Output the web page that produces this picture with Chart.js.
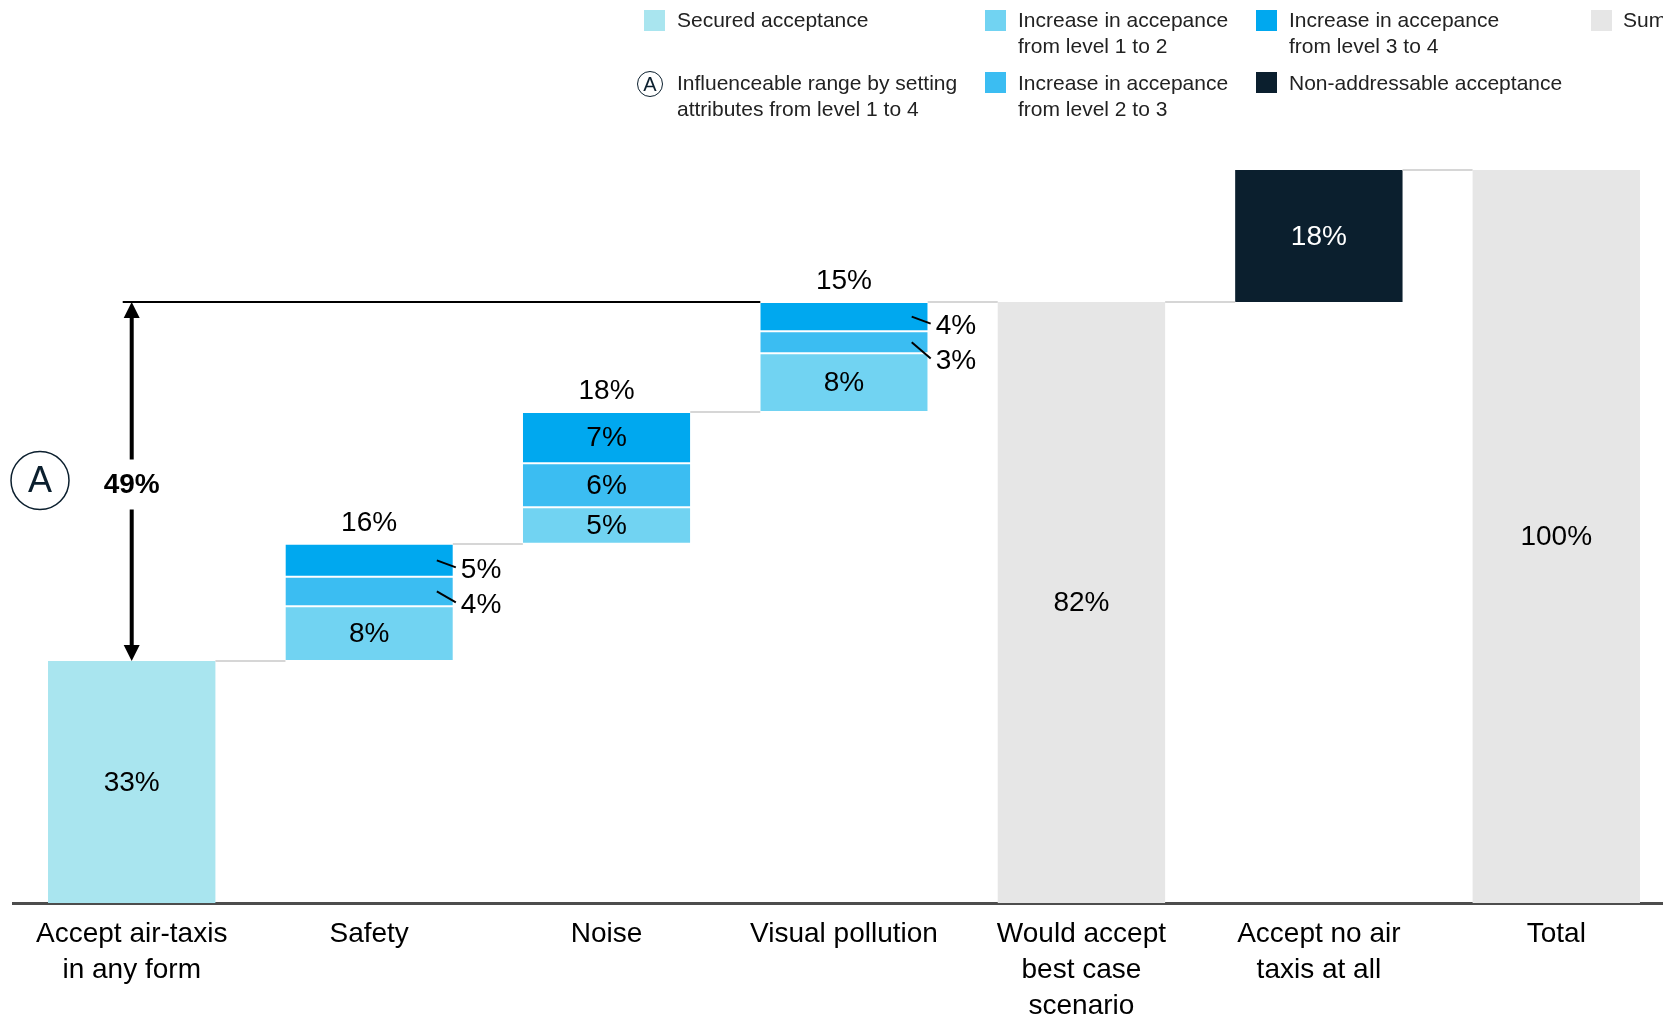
<!DOCTYPE html>
<html>
<head>
<meta charset="utf-8">
<script src="https://cdn.jsdelivr.net/npm/chart.js@4.4.1/dist/chart.umd.min.js"></script>
<style>
  html, body { margin: 0; padding: 0; background: #fff; overflow: hidden; }
  body { width: 1663px; height: 1017px; position: relative; font-family: 'Liberation Sans', Arial, sans-serif; }
  #wrap { position: absolute; left: 0; top: 0; width: 1700px; height: 1017px; }
  .lg { position: absolute; font-size: 21px; line-height: 26px; color: #222; white-space: nowrap; }
  .sw { position: absolute; width: 21px; height: 21px; }
  .circ { position: absolute; width: 24px; height: 24px; border: 1.5px solid #0B1F2E; border-radius: 50%;
          font-size: 20px; line-height: 24px; text-align: center; color: #0B1F2E; box-sizing: content-box; }
</style>
</head>
<body>
<div id="wrap"><canvas id="chart" width="1700" height="1017"></canvas></div>

<!-- legend -->
<div class="sw" style="left:644px;top:10px;background:#A9E5EF"></div>
<div class="lg" style="left:677px;top:7px">Secured acceptance</div>
<div class="sw" style="left:985px;top:10px;background:#71D3F2"></div>
<div class="lg" style="left:1018px;top:7px">Increase in accepance<br>from level 1 to 2</div>
<div class="sw" style="left:1256px;top:10px;background:#00A8EF"></div>
<div class="lg" style="left:1289px;top:7px">Increase in accepance<br>from level 3 to 4</div>
<div class="sw" style="left:1591px;top:10px;background:#E6E6E6"></div>
<div class="lg" style="left:1623px;top:7px">Sum</div>
<div class="circ" style="left:637px;top:71px">A</div>
<div class="lg" style="left:677px;top:70px">Influenceable range by setting<br>attributes from level 1 to 4</div>
<div class="sw" style="left:985px;top:72px;background:#3BBDF2"></div>
<div class="lg" style="left:1018px;top:70px">Increase in accepance<br>from level 2 to 3</div>
<div class="sw" style="left:1256px;top:72px;background:#0B1F2E"></div>
<div class="lg" style="left:1289px;top:70px">Non-addressable acceptance</div>

<script>
// categories and values (percent of respondents)
const categories = [['Accept air-taxis', 'in any form'], 'Safety', 'Noise', 'Visual pollution',
                    ['Would accept', 'best case', 'scenario'], ['Accept no air', 'taxis at all'], 'Total'];
const securedAcceptance = [33, null, null, null, null, null, null];
const level1to2 = [null, 7.5, 5, 8, null, null, null];
const level2to3 = [null, 4, 6, 3, null, null, null];
const level3to4 = [null, 4.5, 7, 4, null, null, null];
const nonAddressable = [null, null, null, null, null, 18, null];
const sumValues = [null, null, null, null, 82, null, 100];

const colors = {
    secured: '#A9E5EF',
    l12: '#71D3F2',
    l23: '#3BBDF2',
    l34: '#00A8EF',
    dark: '#0B1F2E',
    sum: '#E6E6E6'
};
const FONT = "'Liberation Sans', Arial, sans-serif";

// build floating [start, end] ranges for the waterfall
var running = securedAcceptance[0];
var r12 = [], r23 = [], r34 = [], rDark = [], rSum = [], rSecured = [];
categories.forEach(function(c, i) {
    rSecured.push(securedAcceptance[i] != null ? [0, securedAcceptance[i]] : null);
    if (level1to2[i] != null) {
        var a = running, b = a + level1to2[i], c2 = b + level2to3[i], d = c2 + level3to4[i];
        r12.push([a, b]); r23.push([b, c2]); r34.push([c2, d]);
        running = d;
    } else {
        r12.push(null); r23.push(null); r34.push(null);
    }
    rDark.push(nonAddressable[i] != null ? [running, running + nonAddressable[i]] : null);
    rSum.push(sumValues[i] != null ? [0, sumValues[i]] : null);
});
var bestCase = running;
var influenceable = bestCase - securedAcceptance[0];

function pct(v) { return Math.round(v) + '%'; }

var segBorder = { top: 1, bottom: 1, left: 0, right: 0 };

// labels, connectors, the influenceable-range arrow
var waterfallDecor = {
    id: 'waterfallDecor',
    afterDatasetsDraw: function(chart) {
        var ctx = chart.ctx;
        var ys = chart.scales.y;
        var metas = [0, 1, 2, 3, 4, 5].map(function(i) { return chart.getDatasetMeta(i); });
        function bar(ds, i) { return metas[ds].data[i]; }
        function left(el) { return el.x - el.width / 2; }
        function right(el) { return el.x + el.width / 2; }

        ctx.save();

        // thin grey connectors between neighbouring bars
        ctx.strokeStyle = '#D6D6D6';
        ctx.lineWidth = 2;
        function conn(x1, x2, v) {
            var y = Math.round(ys.getPixelForValue(v));
            ctx.beginPath(); ctx.moveTo(x1, y); ctx.lineTo(x2, y); ctx.stroke();
        }
        conn(right(bar(0, 0)), left(bar(1, 1)), securedAcceptance[0]);
        conn(right(bar(3, 1)), left(bar(1, 2)), r34[1][1]);
        conn(right(bar(3, 2)), left(bar(1, 3)), r34[2][1]);
        conn(right(bar(3, 3)), left(bar(5, 4)), bestCase);
        conn(right(bar(5, 4)), left(bar(4, 5)), bestCase);
        conn(right(bar(4, 5)), left(bar(5, 6)), sumValues[6]);

        // black reference line at best-case level
        var first = bar(0, 0);
        var yTop = ys.getPixelForValue(bestCase);
        var yBot = ys.getPixelForValue(securedAcceptance[0]);
        ctx.strokeStyle = '#000';
        ctx.lineWidth = 2;
        ctx.beginPath(); ctx.moveTo(first.x - 9, yTop); ctx.lineTo(left(bar(1, 3)), yTop); ctx.stroke();

        // double arrow with the range label
        var ax = first.x, mid = (yTop + yBot) / 2 + 2, head = 16, hw = 8;
        ctx.lineWidth = 4;
        ctx.beginPath();
        ctx.moveTo(ax, yTop + head); ctx.lineTo(ax, mid - 24);
        ctx.moveTo(ax, mid + 26); ctx.lineTo(ax, yBot - head);
        ctx.stroke();
        ctx.fillStyle = '#000';
        ctx.beginPath(); ctx.moveTo(ax, yTop); ctx.lineTo(ax - hw, yTop + head); ctx.lineTo(ax + hw, yTop + head); ctx.closePath(); ctx.fill();
        ctx.beginPath(); ctx.moveTo(ax, yBot); ctx.lineTo(ax - hw, yBot - head); ctx.lineTo(ax + hw, yBot - head); ctx.closePath(); ctx.fill();
        ctx.font = 'bold 28px ' + FONT;
        ctx.textAlign = 'center';
        ctx.textBaseline = 'middle';
        ctx.fillText(pct(influenceable), ax, mid + 2);

        // circled A marker
        ctx.strokeStyle = colors.dark;
        ctx.lineWidth = 1.5;
        ctx.beginPath(); ctx.arc(40, mid - 3, 29, 0, Math.PI * 2); ctx.stroke();
        ctx.fillStyle = colors.dark;
        ctx.font = '36px ' + FONT;
        ctx.fillText('A', 40, mid - 1);

        // value labels
        ctx.font = '28px ' + FONT;
        function inside(el, text, color) {
            ctx.fillStyle = color || '#000';
            ctx.fillText(text, el.x, (el.y + el.base) / 2 + 1);
        }
        inside(bar(0, 0), pct(securedAcceptance[0]));
        inside(bar(4, 5), pct(nonAddressable[5]), '#fff');
        inside(bar(5, 4), pct(sumValues[4]));
        inside(bar(5, 6), pct(sumValues[6]));

        [1, 2, 3].forEach(function(i) {
            var segs = [[3, level3to4[i]], [2, level2to3[i]], [1, level1to2[i]]];
            var lastY = -Infinity;
            segs.forEach(function(s) {
                var el = bar(s[0], i);
                var h = Math.abs(el.base - el.y);
                var cy = (el.y + el.base) / 2;
                if (h >= 35) {
                    inside(el, pct(s[1]));
                } else {
                    // too thin: label to the right with a leader line
                    var ly = Math.max(cy + 10, lastY + 35);
                    lastY = ly;
                    var rx = right(el);
                    ctx.strokeStyle = '#000';
                    ctx.lineWidth = 2;
                    ctx.beginPath(); ctx.moveTo(rx - 16, cy); ctx.lineTo(rx + 3, ly - 3); ctx.stroke();
                    ctx.fillStyle = '#000';
                    ctx.textAlign = 'left';
                    ctx.fillText(pct(s[1]), rx + 8, ly);
                    ctx.textAlign = 'center';
                }
            });
            // step total above the stack
            var topEl = bar(3, i);
            ctx.fillStyle = '#000';
            ctx.fillText(pct(level1to2[i] + level2to3[i] + level3to4[i]), topEl.x, topEl.y - 21);
        });

        ctx.restore();
    }
};

new Chart(document.getElementById('chart'), {
    type: 'bar',
    data: {
        labels: categories,
        datasets: [
            { label: 'Secured acceptance', data: rSecured, backgroundColor: colors.secured, borderWidth: 0 },
            { label: 'Increase from level 1 to 2', data: r12, backgroundColor: colors.l12,
              borderColor: '#fff', borderWidth: segBorder, borderSkipped: false },
            { label: 'Increase from level 2 to 3', data: r23, backgroundColor: colors.l23,
              borderColor: '#fff', borderWidth: segBorder, borderSkipped: false },
            { label: 'Increase from level 3 to 4', data: r34, backgroundColor: colors.l34,
              borderColor: '#fff', borderWidth: segBorder, borderSkipped: false },
            { label: 'Non-addressable acceptance', data: rDark, backgroundColor: colors.dark, borderWidth: 0 },
            { label: 'Sum', data: rSum, backgroundColor: colors.sum, borderWidth: 0 }
        ]
    },
    options: {
        responsive: false,
        animation: false,
        layout: { padding: { left: 13, right: 25, top: 170, bottom: 0 } },
        datasets: {
            bar: { grouped: false, categoryPercentage: 1, barPercentage: 0.705 }
        },
        plugins: {
            legend: { display: false },
            tooltip: { enabled: false }
        },
        scales: {
            x: {
                grid: { display: false, drawTicks: false },
                border: { display: true, color: '#4D4D4D', width: 3 },
                ticks: {
                    color: '#000',
                    font: { family: FONT, size: 28, lineHeight: 1.29 },
                    padding: 13,
                    autoSkip: false,
                    maxRotation: 0
                },
                afterFit: function(scale) { scale.height = 114; }
            },
            y: { display: false, min: 0, max: 100 }
        }
    },
    plugins: [waterfallDecor]
});
</script>
</body>
</html>
